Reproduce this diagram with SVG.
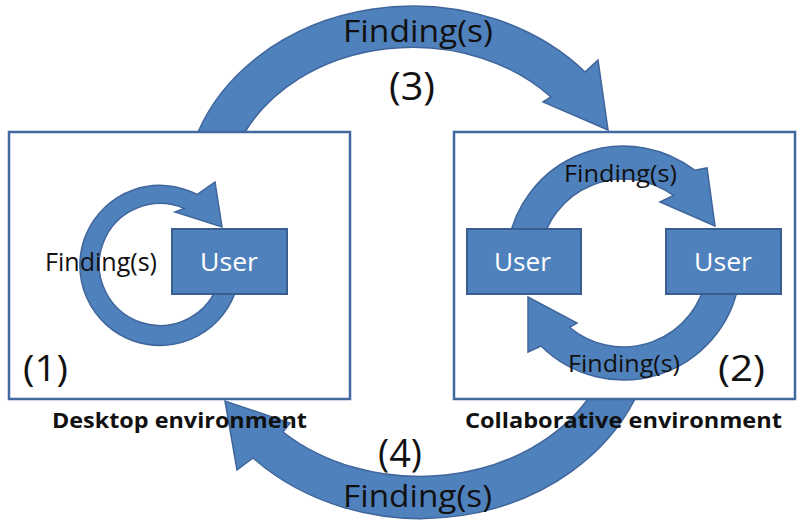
<svg xmlns="http://www.w3.org/2000/svg" width="804" height="528" viewBox="0 0 804 528">
<style>
.arrow{fill:#4F81BD;stroke:#3F659B;stroke-width:1.5;stroke-linejoin:miter}
.env{fill:#FFFFFF;stroke:#41689F;stroke-width:2.5}
.user{fill:#4F81BD;stroke:#3A5E8F;stroke-width:2}
.t{font-family:"Open Sans","Noto Sans","Liberation Sans",sans-serif;fill:#111111}
.w{font-family:"Open Sans","Noto Sans","Liberation Sans",sans-serif;fill:#FFFFFF}
.b{font-family:"Open Sans","Noto Sans","Liberation Sans",sans-serif;font-weight:bold;fill:#111111}
</style>
<rect width="804" height="528" fill="#FFFFFF"/>
<g id="connectors-outer">
<path id="arrow-3" class="arrow" d="M 198 132 A 229 193 0 0 1 585 72 L 598 60 L 608 130 L 543 102 L 551 97 A 187 152 0 0 0 245 132 Z"/>
<path id="arrow-4" class="arrow" d="M 635 399 A 234 200 0 0 1 253 458 L 237 470 L 225 401 L 290 423 L 283 432 A 196 158 0 0 0 588 399 Z"/>
</g>
<g id="desktop-environment">
<rect class="env" x="9" y="132" width="341" height="267"/>
<text class="b" x="52" y="428" font-size="21" textLength="255" lengthAdjust="spacingAndGlyphs">Desktop environment</text>
<text class="t" x="23" y="381" font-size="37" textLength="45" lengthAdjust="spacingAndGlyphs">(1)</text>
</g>
<g id="collaborative-environment">
<rect class="env" x="454" y="132" width="341" height="267"/>
<text class="b" x="465" y="428" font-size="21" textLength="317" lengthAdjust="spacingAndGlyphs">Collaborative environment</text>
<text class="t" x="718" y="381" font-size="37" textLength="47" lengthAdjust="spacingAndGlyphs">(2)</text>
</g>
<g id="connectors-inner">
<path id="loop-1" class="arrow" d="M 237.2 286 A 80 80 0 1 1 197 194.5 L 215 182 L 222 227 L 175 212 L 184.2 208.4 A 61 61 0 1 0 218.9 281 Z"/>
<path id="loop-2-top" class="arrow" d="M 508.3 242.7 A 117 117 0 0 1 694.7 170.2 L 707 168 L 715 226 L 660 202 L 673.5 195.5 A 84 84 0 0 0 540.8 248.4 Z"/>
<path id="loop-2-bottom" class="arrow" d="M 738.7 283.3 A 117 117 0 0 1 541.1 346 L 528 352 L 528 297 L 577 323 L 569.5 327.3 A 84 84 0 0 0 706.2 277.6 Z"/>
</g>
<g id="user-desktop">
<rect class="user" x="172" y="229" width="115" height="65"/>
<text class="w" x="200" y="271" font-size="26" textLength="58" lengthAdjust="spacingAndGlyphs">User</text>
</g>
<g id="user-collab-left">
<rect class="user" x="467" y="229" width="114" height="65"/>
<text class="w" x="494" y="271" font-size="26" textLength="57" lengthAdjust="spacingAndGlyphs">User</text>
</g>
<g id="user-collab-right">
<rect class="user" x="666" y="229" width="115" height="65"/>
<text class="w" x="694" y="271" font-size="26" textLength="58" lengthAdjust="spacingAndGlyphs">User</text>
</g>
<g id="labels">
<text class="t" x="343" y="42" font-size="31" textLength="150" lengthAdjust="spacingAndGlyphs">Finding(s)</text>
<text class="t" x="389" y="100" font-size="39" textLength="46" lengthAdjust="spacingAndGlyphs">(3)</text>
<text class="t" x="378" y="467" font-size="39" textLength="44" lengthAdjust="spacingAndGlyphs">(4)</text>
<text class="t" x="343" y="507" font-size="31" textLength="149" lengthAdjust="spacingAndGlyphs">Finding(s)</text>
<text class="t" x="45" y="271" font-size="25" textLength="112" lengthAdjust="spacingAndGlyphs">Finding(s)</text>
<text class="t" x="564" y="182" font-size="24" textLength="113" lengthAdjust="spacingAndGlyphs">Finding(s)</text>
<text class="t" x="568" y="372" font-size="24" textLength="112" lengthAdjust="spacingAndGlyphs">Finding(s)</text>
</g>
</svg>
